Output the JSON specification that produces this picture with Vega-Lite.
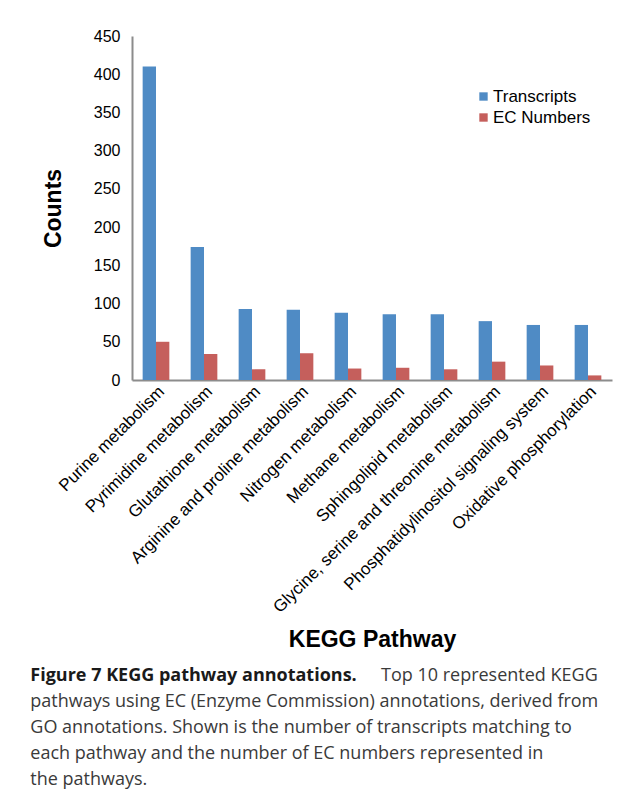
{
  "$schema": "https://vega.github.io/schema/vega-lite/v6.json",
  "autosize": "none",
  "width": 480,
  "height": 344,
  "padding": {"left": 132, "top": 36, "right": 21, "bottom": 420},
  "background": "white",
  "data": {
    "values": [
      {"pathway": "Purine metabolism", "series": "Transcripts", "count": 410},
      {"pathway": "Purine metabolism", "series": "EC Numbers", "count": 50},
      {"pathway": "Pyrimidine metabolism", "series": "Transcripts", "count": 174},
      {"pathway": "Pyrimidine metabolism", "series": "EC Numbers", "count": 34},
      {"pathway": "Glutathione metabolism", "series": "Transcripts", "count": 93},
      {"pathway": "Glutathione metabolism", "series": "EC Numbers", "count": 14},
      {"pathway": "Arginine and proline metabolism", "series": "Transcripts", "count": 92},
      {"pathway": "Arginine and proline metabolism", "series": "EC Numbers", "count": 35},
      {"pathway": "Nitrogen metabolism", "series": "Transcripts", "count": 88},
      {"pathway": "Nitrogen metabolism", "series": "EC Numbers", "count": 15},
      {"pathway": "Methane metabolism", "series": "Transcripts", "count": 86},
      {"pathway": "Methane metabolism", "series": "EC Numbers", "count": 16},
      {"pathway": "Sphingolipid metabolism", "series": "Transcripts", "count": 86},
      {"pathway": "Sphingolipid metabolism", "series": "EC Numbers", "count": 14},
      {"pathway": "Glycine, serine and threonine metabolism", "series": "Transcripts", "count": 77},
      {"pathway": "Glycine, serine and threonine metabolism", "series": "EC Numbers", "count": 24},
      {"pathway": "Phosphatidylinositol signaling system", "series": "Transcripts", "count": 72},
      {"pathway": "Phosphatidylinositol signaling system", "series": "EC Numbers", "count": 19},
      {"pathway": "Oxidative phosphorylation", "series": "Transcripts", "count": 72},
      {"pathway": "Oxidative phosphorylation", "series": "EC Numbers", "count": 6}
    ]
  },
  "title": {
    "text": "Figure 7 KEGG pathway annotations.",
    "subtitle": [
      "\u200b\u00a0\u00a0\u00a0\u00a0\u00a0\u00a0\u00a0\u00a0\u00a0\u00a0\u00a0\u00a0\u00a0\u00a0\u00a0\u00a0\u00a0\u00a0\u00a0\u00a0\u00a0\u00a0\u00a0\u00a0\u00a0\u00a0\u00a0\u00a0\u00a0\u00a0\u00a0\u00a0\u00a0\u00a0\u00a0\u00a0\u00a0\u00a0\u00a0\u00a0\u00a0\u00a0\u00a0\u00a0\u00a0\u00a0\u00a0\u00a0\u00a0\u00a0\u00a0\u00a0\u00a0\u00a0\u00a0\u00a0\u00a0\u00a0\u00a0\u00a0\u00a0\u00a0\u00a0\u00a0\u00a0\u00a0\u00a0\u00a0\u00a0\u00a0\u00a0\u00a0\u00a0\u00a0\u00a0Top 10 represented KEGG",
      "pathways using EC (Enzyme Commission) annotations, derived from",
      "GO annotations. Shown is the number of transcripts matching to",
      "each pathway and the number of EC numbers represented in",
      "the pathways."
    ],
    "orient": "bottom",
    "anchor": "start",
    "frame": "bounds",
    "offset": 16,
    "dx": -12,
    "font": "Open Sans",
    "fontSize": 18,
    "fontWeight": "bold",
    "color": "#1a1a1a",
    "lineHeight": 26,
    "limit": 0,
    "subtitleFont": "Open Sans",
    "subtitleFontSize": 18,
    "subtitleFontWeight": "normal",
    "subtitleColor": "#3a3a3a",
    "subtitleLineHeight": 26,
    "subtitlePadding": -18
  },
  "mark": {"type": "bar"},
  "encoding": {
    "x": {
      "field": "pathway",
      "type": "nominal",
      "sort": null,
      "scale": {"paddingInner": 0.444, "paddingOuter": 0.222},
      "axis": {
        "title": "KEGG Pathway",
        "labelAngle": -45,
        "labelFontSize": 17,
        "labelFont": "Liberation Sans",
        "labelColor": "black",
        "labelPadding": 3,
        "labelLimit": 400,
        "ticks": false,
        "domainColor": "#8c8c8c",
        "domainWidth": 2,
        "titleFont": "Liberation Sans",
        "titleFontSize": 23,
        "titleFontWeight": "bold",
        "titleColor": "black",
        "titlePadding": 48
      }
    },
    "xOffset": {
      "field": "series",
      "type": "nominal",
      "sort": ["Transcripts", "EC Numbers"],
      "scale": {"paddingInner": 0, "paddingOuter": 0}
    },
    "y": {
      "field": "count",
      "type": "quantitative",
      "scale": {"domain": [0, 450], "nice": false},
      "axis": {
        "title": "Counts",
        "values": [0, 50, 100, 150, 200, 250, 300, 350, 400, 450],
        "grid": false,
        "ticks": false,
        "labelFontSize": 16,
        "labelFont": "Liberation Sans",
        "labelColor": "black",
        "labelPadding": 12,
        "domainColor": "#8c8c8c",
        "domainWidth": 2,
        "titleFont": "Liberation Sans",
        "titleFontSize": 23,
        "titleFontWeight": "bold",
        "titleColor": "black",
        "titlePadding": 28
      }
    },
    "color": {
      "field": "series",
      "type": "nominal",
      "sort": ["Transcripts", "EC Numbers"],
      "scale": {"domain": ["Transcripts", "EC Numbers"], "range": ["#4f8bc5", "#c55f5c"]},
      "legend": {
        "title": null,
        "orient": "none",
        "legendX": 343,
        "legendY": 52,
        "symbolType": "square",
        "symbolSize": 70,
        "symbolStrokeWidth": 0,
        "labelFont": "Liberation Sans",
        "labelFontSize": 17,
        "labelColor": "black",
        "labelOffset": 1,
        "rowPadding": 3
      }
    }
  },
  "config": {"view": {"stroke": null}}
}
